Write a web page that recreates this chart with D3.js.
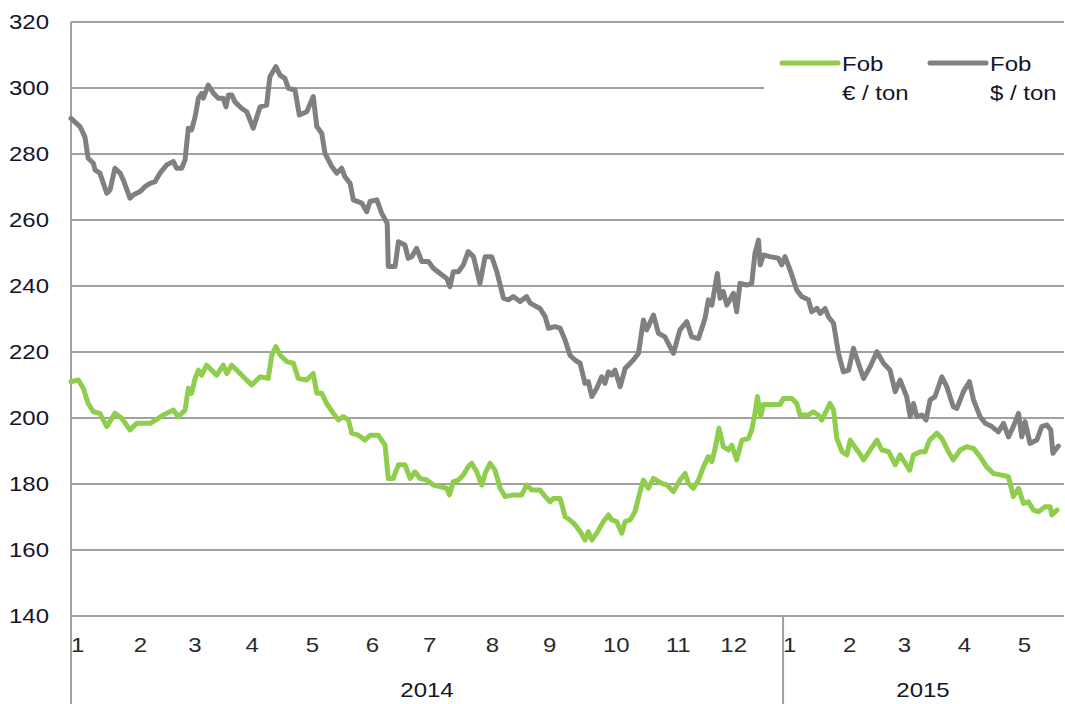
<!DOCTYPE html>
<html>
<head>
<meta charset="utf-8">
<script src="https://cdn.jsdelivr.net/npm/d3@7"></script>
<style>
  body { margin: 0; background: #fff; }
  text { font-family: "Liberation Sans", Arial, sans-serif; }
</style>
</head>
<body>
<div id="chart"></div>
<script>
// x = trading day counted from 1 Jan 2014, y = price
var fobEur = [
  [0,211.0],[2.7,211.5],[4.5,209.0],[6.3,204.4],[8.2,201.9],[10.6,201.4],[13.1,197.4],[16.1,201.4],
  [18.6,199.9],[21.6,196.4],[24.1,198.4],[29.0,198.4],[31.4,199.6],[33.8,200.9],[36.3,201.9],[37.5,202.4],
  [39.3,200.4],[41.8,202.4],[43.0,209.0],[44.2,207.5],[45.5,212.0],[46.7,214.5],[47.9,213.0],[49.7,216.0],
  [53.4,213.0],[55.8,216.0],[57.1,213.5],[58.9,216.0],[62.0,213.5],[63.8,212.0],[66.2,210.0],[69.3,212.5],
  [72.3,212.0],[73.6,219.1],[75.1,221.6],[76.6,219.1],[79.1,217.1],[81.5,216.6],[83.3,212.0],[86.4,211.5],
  [88.8,213.5],[90.1,207.5],[91.9,207.5],[93.7,204.4],[96.2,201.4],[98.0,199.4],[99.8,200.4],[101.7,199.4],
  [102.9,195.4],[105.3,194.8],[107.8,193.3],[109.6,194.8],[112.6,194.8],[115.1,191.8],[116.3,181.7],[118.1,181.7],
  [120.0,185.8],[122.4,185.8],[124.3,181.7],[126.1,183.7],[127.9,181.7],[130.4,181.2],[132.8,179.7],[135.3,179.2],
  [137.7,178.7],[138.7,176.7],[140.1,180.7],[142.0,181.2],[143.8,182.7],[145.6,185.2],[146.9,186.3],[148.7,183.7],
  [150.6,179.7],[151.8,183.2],[153.6,186.3],[155.4,184.2],[157.3,178.7],[159.1,176.2],[162.1,176.7],[165.2,176.7],
  [167.0,179.7],[168.9,178.2],[171.9,178.2],[173.8,176.2],[175.6,174.6],[176.8,175.6],[179.3,175.6],[181.1,170.1],
  [182.9,169.1],[184.8,167.6],[186.6,165.6],[188.4,163.0],[189.6,165.6],[190.9,163.0],[192.7,165.1],[195.1,168.6],
  [197.0,170.6],[198.2,169.1],[200.0,168.6],[201.9,165.1],[203.1,168.6],[204.9,169.1],[206.7,171.6],[208.6,177.7],
  [209.8,181.2],[211.6,178.7],[213.5,181.7],[216.5,180.2],[218.4,179.7],[220.8,177.7],[223.2,181.2],[225.1,183.2],
  [226.3,180.2],[228.1,178.7],[230.0,181.2],[231.8,185.2],[233.6,188.3],[234.9,186.8],[236.1,190.8],[237.5,196.9],
  [239.1,191.3],[241.0,190.3],[242.2,191.8],[244.0,187.3],[245.9,193.3],[248.3,193.8],[249.5,196.4],[250.7,201.4],
  [251.6,206.5],[252.8,200.4],[253.8,204.1],[259.9,204.1],[261.1,205.9],[264.2,205.9],[266.0,204.4],[267.2,200.9],
  [270.3,200.9],[272.1,201.9],[273.9,200.9],[275.2,199.4],[277.0,202.4],[278.2,204.4],[279.5,202.4],[280.7,193.8],
  [282.6,189.8],[284.4,188.8],[285.6,193.3],[286.8,191.8],[288.6,189.8],[290.5,187.3],[292.9,190.3],[295.4,193.3],
  [297.2,190.3],[299.7,189.8],[302.1,185.8],[303.9,188.8],[305.8,186.3],[307.4,184.2],[308.8,188.8],[311.3,189.8],
  [313.1,189.8],[314.7,193.3],[317.4,195.4],[319.2,193.8],[321.6,189.8],[323.4,187.3],[325.9,190.3],[328.3,191.3],
  [330.8,190.8],[333.2,188.3],[335.6,185.2],[338.1,183.2],[341.2,182.7],[343.6,182.2],[345.4,176.2],[347.3,178.7],
  [349.1,174.1],[350.9,174.6],[352.8,172.1],[354.6,171.6],[357.0,173.1],[358.9,173.1],[359.5,170.6],[361.4,172.1]
];

var fobUsd = [
  [0,290.8],[3.3,288.3],[5.1,285.2],[6.3,278.7],[8.2,277.2],[8.8,275.2],[10.6,274.2],[13.1,268.1],
  [14.3,269.1],[16.1,275.7],[18.0,274.2],[19.2,272.1],[21.6,266.6],[22.8,267.6],[25.3,268.6],[27.1,270.1],
  [29.0,271.1],[30.8,271.6],[32.6,274.2],[35.1,276.7],[37.5,277.7],[38.7,275.7],[40.6,275.7],[41.8,278.2],
  [43.0,287.8],[44.2,287.3],[45.5,291.3],[46.7,296.9],[47.9,298.4],[48.5,296.9],[50.3,300.9],[52.2,298.4],
  [54.0,296.9],[55.8,296.9],[56.8,294.3],[57.7,297.9],[58.9,297.9],[60.1,295.8],[62.6,293.8],[64.4,292.8],
  [66.8,287.8],[69.3,294.3],[71.7,294.8],[72.9,303.4],[75.1,306.5],[76.6,303.9],[78.4,302.9],[79.7,299.9],
  [82.1,299.4],[83.7,291.8],[86.4,292.8],[88.8,297.4],[90.1,288.3],[91.9,286.3],[93.1,280.2],[95.6,276.2],
  [97.4,274.2],[99.2,275.7],[100.4,273.1],[102.3,271.1],[103.5,266.1],[106.6,265.1],[108.4,262.5],[109.6,265.6],
  [112.1,266.1],[113.9,262.0],[115.9,259.0],[116.3,245.9],[118.8,245.9],[120.0,253.4],[122.4,252.4],[123.6,248.4],
  [124.9,248.9],[126.7,251.4],[128.6,247.4],[131.0,247.4],[132.8,245.4],[135.3,243.8],[137.7,242.3],[138.9,239.8],
  [140.1,244.3],[142.0,244.3],[143.8,246.4],[145.6,250.4],[147.5,248.9],[149.9,240.8],[151.8,248.9],[154.2,248.9],
  [156.1,244.3],[158.5,236.3],[160.3,235.8],[162.1,236.8],[164.6,235.3],[167.0,236.8],[168.3,234.8],[171.9,233.2],
  [173.8,230.7],[175.0,227.2],[177.4,227.7],[179.3,227.2],[181.1,223.6],[182.9,219.0],[184.8,217.5],[186.6,216.6],
  [188.4,210.5],[189.6,211.0],[190.9,206.5],[192.7,209.0],[194.5,212.5],[195.7,210.5],[197.0,214.0],[198.2,213.0],
  [199.4,214.5],[201.3,209.5],[203.1,215.0],[206.1,217.6],[208.0,219.6],[209.8,229.7],[211.0,226.7],[213.5,231.2],
  [215.3,225.7],[217.7,224.6],[220.8,219.6],[223.2,226.7],[225.7,229.2],[227.5,224.6],[230.0,224.1],[232.4,230.2],
  [233.6,235.8],[234.9,234.2],[236.9,243.8],[237.9,236.3],[239.1,238.3],[240.4,234.2],[242.8,237.8],[244.0,232.2],
  [245.2,240.8],[247.7,240.3],[249.5,240.8],[250.7,249.9],[252.0,253.9],[252.6,246.4],[253.8,249.4],[256.2,248.9],
  [259.3,248.4],[260.5,246.4],[261.7,248.9],[263.6,244.8],[266.0,238.8],[267.8,236.8],[270.3,235.8],[271.5,232.2],
  [273.4,233.2],[274.6,231.7],[276.4,233.2],[277.6,230.7],[279.5,228.7],[281.3,219.6],[283.1,214.0],[285.0,214.5],
  [286.8,221.1],[288.6,216.6],[290.5,212.0],[292.9,215.5],[295.4,220.1],[297.8,216.6],[300.2,214.5],[302.1,208.0],
  [303.9,211.5],[306.3,206.5],[307.6,200.4],[308.8,204.4],[310.0,200.4],[311.9,200.9],[313.4,199.4],[314.9,205.5],
  [316.7,206.5],[319.2,212.5],[321.0,209.5],[323.4,203.4],[324.7,202.9],[327.1,208.0],[329.3,211.0],[330.8,205.5],
  [333.2,200.4],[335.1,198.4],[337.5,197.4],[339.9,195.8],[341.8,198.4],[343.6,194.3],[345.4,197.4],[347.3,201.4],
  [348.5,194.3],[349.7,198.9],[351.5,192.3],[354.0,193.3],[355.8,197.4],[357.7,197.9],[359.1,196.4],[359.9,189.3],
  [361.9,191.5]
];

var yTicks = [140, 160, 180, 200, 220, 240, 260, 280, 300, 320];
var years = [2014, 2015];
var legendNames = [["Fob", "€ / ton"], ["Fob", "$ / ton"]];
var lastDay = 363.6;

var W = 1065, H = 704;
var plotLeft = 71, plotRight = 1063, plotTop = 22, plotBottom = 616;
var green = "#8fce4c", grey = "#808080", gridColor = "#a0a0a0";

var svg = d3.select("#chart").append("svg").attr("width", W).attr("height", H);

var x = d3.scaleLinear().domain([0, lastDay]).range([plotLeft, plotRight]);
var y = d3.scaleLinear().domain([140, 320]).range([plotBottom, plotTop]);

// count weekdays to find where each month starts on the trading-day axis
var days = d3.utcDay.range(new Date(Date.UTC(2014, 0, 1)), new Date(Date.UTC(2015, 5, 1)))
  .filter(function (d) { var w = d.getUTCDay(); return w != 0 && w != 6; });
var monthStarts = [];
days.forEach(function (d, i) {
  if (i == 0 || d.getUTCMonth() != days[i - 1].getUTCMonth())
    monthStarts.push({ day: i, month: d.getUTCMonth() + 1, year: d.getUTCFullYear() });
});
monthStarts = monthStarts.filter(function (m) { return m.day < lastDay; });

function label(parent, px, py, txt, anchor, size, color) {
  parent.append("text")
    .attr("transform", "translate(" + px + "," + py + ") scale(1.2,1)")
    .attr("text-anchor", anchor)
    .attr("dy", "0.35em")
    .style("font-size", size + "px")
    .style("fill", color)
    .text(txt);
}

// horizontal gridlines
svg.append("g").selectAll("line").data(yTicks).join("line")
  .attr("x1", plotLeft).attr("x2", plotRight + 1)
  .attr("y1", function (d) { return y(d); }).attr("y2", function (d) { return y(d); })
  .attr("stroke", gridColor).attr("stroke-width", 2);

// axis frame lines
svg.append("line").attr("x1", plotLeft).attr("x2", plotLeft).attr("y1", plotTop).attr("y2", H)
  .attr("stroke", gridColor).attr("stroke-width", 2);
var yearBreak = monthStarts.filter(function (m) { return m.year == 2015 && m.month == 1; })[0].day;
svg.append("line").attr("x1", x(yearBreak)).attr("x2", x(yearBreak)).attr("y1", plotBottom).attr("y2", H)
  .attr("stroke", gridColor).attr("stroke-width", 2);

// y labels
var yl = svg.append("g");
yTicks.forEach(function (t) { label(yl, 49, y(t), t, "end", 20, "#14142a"); });

// month labels
var ml = svg.append("g");
monthStarts.forEach(function (m) { label(ml, x(m.day), 645, m.month, "start", 20, "#2a2a2a"); });

// year labels
var yearSpans = [[0, yearBreak], [yearBreak, lastDay]];
years.forEach(function (yr, i) {
  label(ml, (x(yearSpans[i][0]) + x(yearSpans[i][1])) / 2, 690, yr, "middle", 20, "#14142a");
});

// legend background hides the gridline behind it
svg.append("rect").attr("x", 764).attr("y", 40).attr("width", W - 764).attr("height", 70).attr("fill", "#fff");

var line = d3.line().x(function (d) { return x(d[0]); }).y(function (d) { return y(d[1]); });

svg.append("path").datum(fobUsd).attr("d", line)
  .attr("fill", "none").attr("stroke", grey).attr("stroke-width", 5)
  .attr("stroke-linejoin", "round").attr("stroke-linecap", "round");
svg.append("path").datum(fobEur).attr("d", line)
  .attr("fill", "none").attr("stroke", green).attr("stroke-width", 5)
  .attr("stroke-linejoin", "round").attr("stroke-linecap", "round");

// legend
var legColors = [green, grey];
var legX = [782, 930];
var lg = svg.append("g");
legendNames.forEach(function (n, i) {
  lg.append("line").attr("x1", legX[i]).attr("x2", legX[i] + 56).attr("y1", 63).attr("y2", 63)
    .attr("stroke", legColors[i]).attr("stroke-width", 5).attr("stroke-linecap", "round");
  label(lg, legX[i] + 60, 64, n[0], "start", 20, "#14142a");
  label(lg, legX[i] + 60, 93, n[1], "start", 20, "#14142a");
});
</script>
</body>
</html>
